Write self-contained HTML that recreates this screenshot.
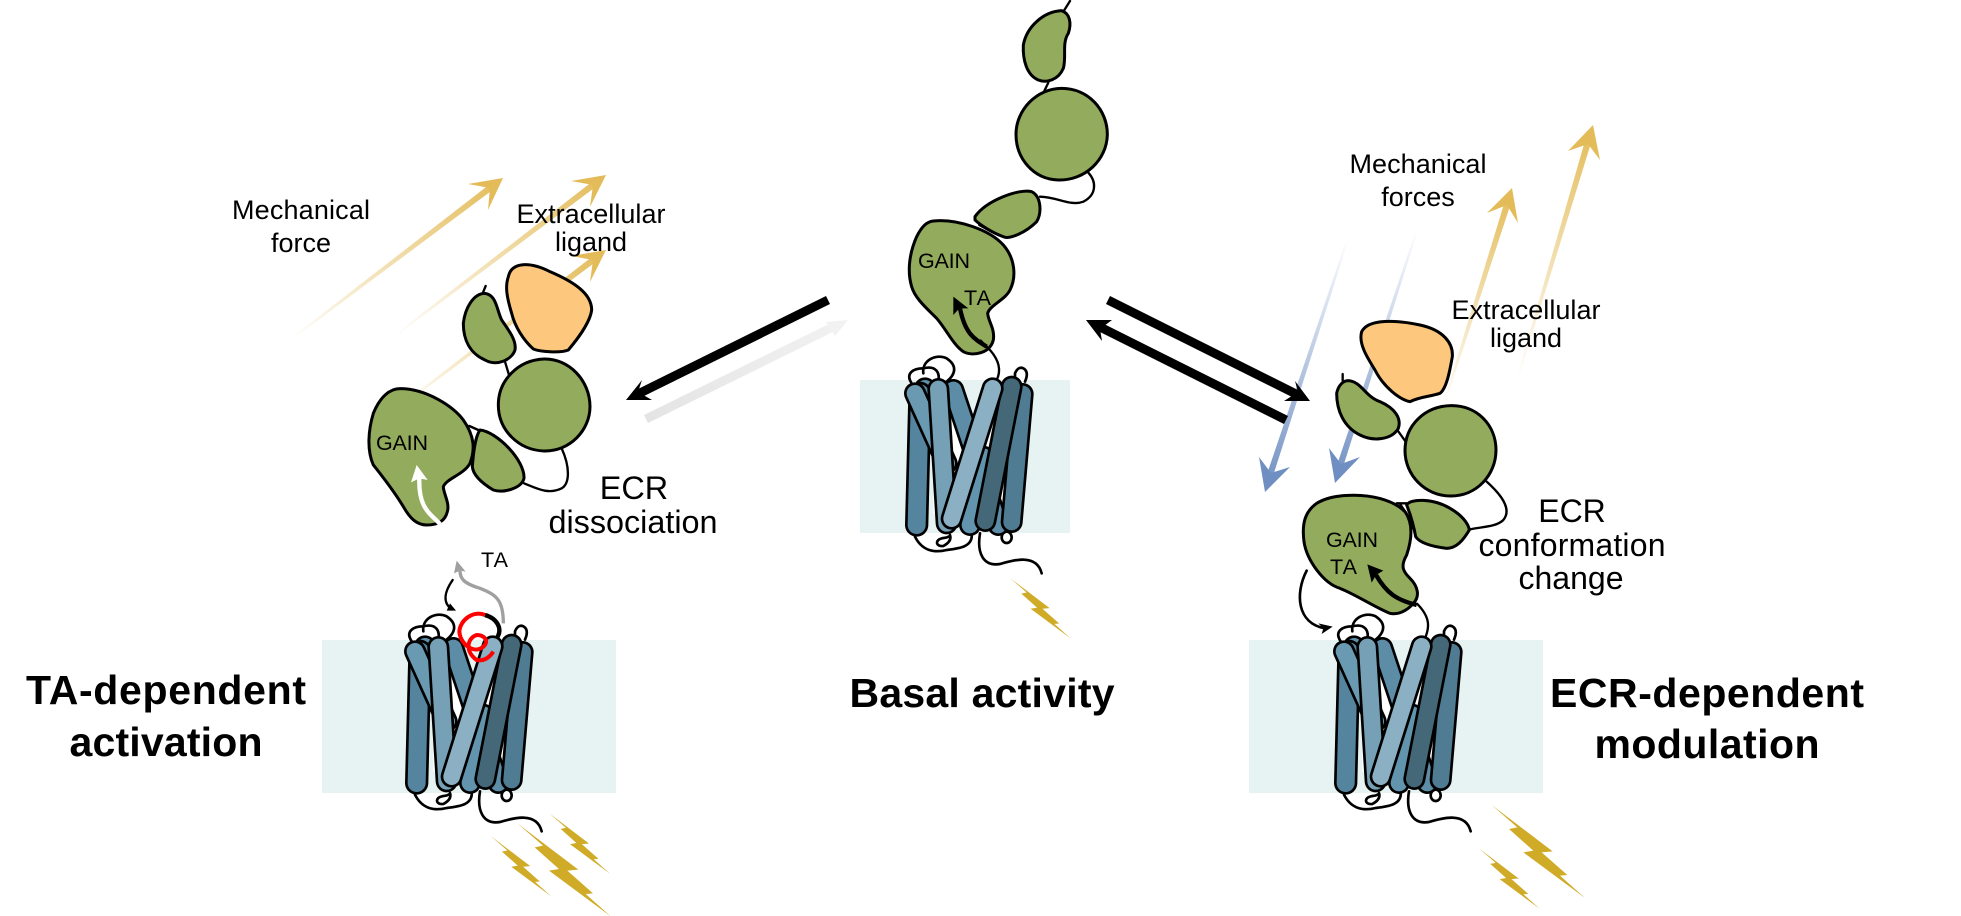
<!DOCTYPE html>
<html>
<head>
<meta charset="utf-8">
<style>
html,body{margin:0;padding:0;background:#fff;}
svg{display:block;filter:blur(0.35px);}
text{font-family:"Liberation Sans",sans-serif;fill:#000;}
.g{fill:#93ab5c;stroke:#000;stroke-width:9;stroke-linejoin:round;}
.o{fill:#fdc87d;stroke:#000;stroke-width:9;stroke-linejoin:round;}
.t{fill:none;stroke:#000;stroke-width:7;stroke-linecap:round;}
.b{font-weight:bold;font-size:41px;}
</style>
</head>
<body>
<svg xmlns="http://www.w3.org/2000/svg" width="1961" height="916" viewBox="0 0 1961 916">
<defs>
<linearGradient id="a1" gradientUnits="userSpaceOnUse" x1="290" y1="340" x2="503" y2="178"><stop offset="0" stop-color="#e3bb58" stop-opacity="0"/><stop offset="1" stop-color="#e3bb58"/></linearGradient>
<linearGradient id="a2" gradientUnits="userSpaceOnUse" x1="393" y1="337" x2="606" y2="175"><stop offset="0" stop-color="#e3bb58" stop-opacity="0"/><stop offset="1" stop-color="#e3bb58"/></linearGradient>
<linearGradient id="a3" gradientUnits="userSpaceOnUse" x1="393" y1="412" x2="606" y2="250"><stop offset="0" stop-color="#e3bb58" stop-opacity="0"/><stop offset="1" stop-color="#e3bb58"/></linearGradient>
<linearGradient id="a4" gradientUnits="userSpaceOnUse" x1="1443" y1="407" x2="1512" y2="188"><stop offset="0" stop-color="#e3bb58" stop-opacity="0"/><stop offset="1" stop-color="#e3bb58"/></linearGradient>
<linearGradient id="a5" gradientUnits="userSpaceOnUse" x1="1517" y1="380" x2="1593" y2="125"><stop offset="0" stop-color="#e3bb58" stop-opacity="0"/><stop offset="1" stop-color="#e3bb58"/></linearGradient>
<linearGradient id="b1" gradientUnits="userSpaceOnUse" x1="1348" y1="238" x2="1265" y2="492"><stop offset="0" stop-color="#6f8fc2" stop-opacity="0"/><stop offset="1" stop-color="#6f8fc2"/></linearGradient>
<linearGradient id="b2" gradientUnits="userSpaceOnUse" x1="1417" y1="230" x2="1335" y2="483"><stop offset="0" stop-color="#6f8fc2" stop-opacity="0"/><stop offset="1" stop-color="#6f8fc2"/></linearGradient>
<linearGradient id="gr" gradientUnits="userSpaceOnUse" x1="646" y1="419" x2="848" y2="320"><stop offset="0" stop-color="#e4e4e4"/><stop offset="1" stop-color="#f2f2f2"/></linearGradient>

<polygon id="bolt" points="0,0 183,139 150,142 227,210 205,212 280,279 95,142 125,137 52,72 77,67" fill="#cfab27"/>

<g id="rec" transform="translate(840,340) scale(0.33333)">
  <polygon points="280,245 540,245 540,520 280,520" fill="#fff"/>
  <g fill="none" stroke="#000" stroke-width="8" stroke-linecap="round">
    <path d="M215,130C195,100 220,85 250,85C290,75 300,100 295,125"/>
    <path d="M250,100C245,60 290,40 320,55C350,75 350,100 320,125"/>
    <path d="M525,125L525,100Q535,78 550,85Q568,95 555,125" fill="#fff"/>
    <path d="M225,590C245,630 280,640 320,630C360,625 400,620 395,580"/>
    <path d="M330,585C335,600 325,610 310,618C295,620 285,610 295,600C305,592 320,595 325,590" fill="#fff"/>
    <ellipse cx="500" cy="592" rx="15" ry="17" fill="#fff"/>
    <path d="M420,580C410,640 430,680 480,672C520,660 590,640 605,700"/>
  </g>
  <g stroke-linecap="round" fill="none">
    <line x1="255" y1="145" x2="290" y2="300" stroke="#000" stroke-width="66"/><line x1="255" y1="145" x2="290" y2="300" stroke="#5f93ad" stroke-width="50"/>
    <line x1="340" y1="150" x2="475" y2="555" stroke="#000" stroke-width="66"/><line x1="340" y1="150" x2="475" y2="555" stroke="#5c8ca6" stroke-width="50"/>
    <line x1="430" y1="350" x2="390" y2="555" stroke="#000" stroke-width="66"/><line x1="430" y1="350" x2="390" y2="555" stroke="#6295ad" stroke-width="50"/>
    <line x1="240" y1="160" x2="230" y2="555" stroke="#000" stroke-width="70"/><line x1="240" y1="160" x2="230" y2="555" stroke="#55849f" stroke-width="54"/>
    <line x1="225" y1="160" x2="320" y2="370" stroke="#000" stroke-width="66"/><line x1="225" y1="160" x2="320" y2="370" stroke="#6a9ab2" stroke-width="50"/>
    <line x1="295" y1="147" x2="320" y2="550" stroke="#000" stroke-width="66"/><line x1="295" y1="147" x2="320" y2="550" stroke="#76a0b5" stroke-width="50"/>
    <line x1="548" y1="162" x2="515" y2="546" stroke="#000" stroke-width="66"/><line x1="548" y1="162" x2="515" y2="546" stroke="#4f7c93" stroke-width="50"/>
    <line x1="515" y1="140" x2="436" y2="543" stroke="#000" stroke-width="66"/><line x1="515" y1="140" x2="436" y2="543" stroke="#456878" stroke-width="50"/>
    <line x1="458" y1="145" x2="335" y2="536" stroke="#000" stroke-width="66"/><line x1="458" y1="145" x2="335" y2="536" stroke="#8bb0c4" stroke-width="50"/>
  </g>
</g>
</defs>

<rect width="1961" height="916" fill="#fff"/>

<!-- membranes -->
<rect x="322" y="640" width="294" height="153" fill="#e7f3f3"/>
<rect x="860" y="380" width="210" height="153" fill="#e7f3f3"/>
<rect x="1249" y="640" width="294" height="153" fill="#e7f3f3"/>

<!-- force arrows -->
<polygon points="290.6,340.8 289.4,339.2 488.1,185.5 491.9,190.5" fill="url(#a1)"/>
<polygon points="468,184 503,178 488,210 490,188" fill="#e3bb58"/>
<polygon points="393.6,337.8 392.4,336.2 591.1,182.5 594.9,187.5" fill="url(#a2)"/>
<polygon points="571,181 606,175 590,207 593,185" fill="#e3bb58"/>
<polygon points="393.6,412.8 392.4,411.2 591.1,257.5 594.9,262.5" fill="url(#a3)"/>
<polygon points="571,256 606,250 590,282 593,260" fill="#e3bb58"/>

<polygon points="1444,407.3 1442,406.7 1504,204 1510,206" fill="url(#a4)"/>
<polygon points="1487,213 1512,188 1518,223 1507,205" fill="#e3bb58"/>
<polygon points="1518,380.3 1516,379.7 1585,141 1591,143" fill="url(#a5)"/>
<polygon points="1568,151 1593,125 1600,160 1588,144" fill="#e3bb58"/>

<polygon points="1349,238.3 1347,237.7 1267,474 1273,476" fill="url(#b1)"/>
<polygon points="1259,457 1265,492 1290,467 1271,473" fill="#6f8fc2"/>
<polygon points="1418,230.3 1416,229.7 1337,465 1343,467" fill="url(#b2)"/>
<polygon points="1329,448 1335,483 1360,457 1341,464" fill="#6f8fc2"/>

<!-- receptors -->
<use href="#rec" x="-500" y="258"/>
<use href="#rec"/>
<use href="#rec" x="429" y="258"/>

<!-- bolts -->
<g transform="translate(300,540) scale(0.33333)">
  <use href="#bolt" transform="translate(748,820) scale(0.65)"/>
  <use href="#bolt" transform="translate(652,850)"/>
  <use href="#bolt" transform="translate(572,888) scale(0.65)"/>
</g>
<g transform="translate(840,340) scale(0.33333)"><use href="#bolt" transform="translate(510,714) scale(0.65)"/></g>
<g transform="translate(1250,480) scale(0.33333)">
  <use href="#bolt" transform="translate(725,975)"/>
  <use href="#bolt" transform="translate(687,1105) scale(0.65)"/>
</g>

<!-- left ECR -->
<g transform="translate(240,150) scale(0.33333)">
  <path class="t" d="M728,430L737,408M795,635L808,678M688,828L715,840"/>
  <path class="t" d="M965,895C990,950 990,1000 965,1015C925,1035 890,1015 852,1000"/>
  <path class="o" d="M805,380C815,335 870,335 930,365C1000,395 1055,430 1055,480C1050,520 1010,570 985,600C960,610 900,605 880,597C850,570 825,530 815,490C800,440 795,410 805,380Z"/>
  <path class="g" d="M735,430C770,435 770,480 785,510C805,540 830,570 825,600C815,630 770,650 735,630C690,610 670,570 670,520C675,475 700,430 735,430Z"/>
  <path class="g" d="M912,627C985,625 1050,690 1050,770C1050,840 990,905 912,903C835,900 775,840 775,765C775,690 835,630 912,627Z"/>
  <path class="g" d="M720,840C770,845 855,930 852,985C845,1015 790,1030 760,1020C735,1005 700,980 697,950C700,910 705,860 720,840Z"/>
  <path class="g" d="M480,716C560,716 640,770 670,810C705,860 705,900 690,940C670,975 620,985 610,1010C610,1030 630,1060 622,1085C615,1115 590,1125 560,1125C530,1125 510,1105 490,1070C460,1020 420,970 400,945C380,900 385,840 400,790C420,740 450,716 480,716Z"/>
  <path d="M600,1122C570,1090 535,1075 538,985" fill="none" stroke="#fff" stroke-width="13"/>
  <polygon points="513,997 530,945 563,990 538,985" fill="#fff"/>
</g>

<!-- center ECR -->
<g transform="translate(840,0) scale(0.33333)">
  <path class="t" d="M672,32L690,3M625,248L612,275M418,675L445,690M445,690L490,708"/>
  <path class="t" d="M745,518C770,545 770,585 730,605C690,620 650,590 600,590"/>
  <path class="g" d="M665,32C690,40 695,70 685,100C665,130 680,170 670,205C655,240 620,250 595,240C560,225 548,180 550,135C560,80 610,35 665,32Z"/>
  <path class="g" d="M665,265C745,265 803,330 802,405C800,480 735,542 655,540C580,538 528,475 528,403C528,330 590,265 665,265Z"/>
  <path class="g" d="M405,650C440,600 540,565 575,575C605,590 605,640 590,665C560,695 510,720 490,710C460,700 420,675 405,660Z"/>
  <path class="g" d="M280,663C350,655 450,690 490,735C525,775 530,830 510,870C495,900 450,915 443,940C445,965 465,985 460,1020C450,1060 400,1070 370,1055C340,1035 320,990 290,955C260,925 225,895 215,860C200,810 210,755 230,710C245,680 260,665 280,663Z"/>
  <path d="M440,1040C400,1015 375,1000 360,925" fill="none" stroke="#000" stroke-width="13"/>
  <polygon points="340,890 385,925 358,925 340,945"/>
</g>
<g transform="translate(840,340) scale(0.33333)">
  <path d="M420,0L450,30C485,70 480,100 470,120" fill="none" stroke="#000" stroke-width="7"/>
</g>

<!-- right ECR -->
<g transform="translate(1240,110) scale(0.33333)">
  <path class="t" d="M308,812L308,792M472,960L497,995"/>
  <path class="o" d="M365,665C385,625 470,630 540,645C610,660 640,700 637,740C630,780 620,835 600,850C570,860 540,860 510,875C480,870 430,830 405,780C380,740 355,700 365,665Z"/>
  <path class="g" d="M325,812C365,815 375,860 420,875C465,895 485,925 475,955C455,990 400,995 360,975C310,950 290,900 290,850C295,825 310,812 325,812Z"/>
  <path class="g" d="M632,887C710,885 768,945 768,1020C768,1095 710,1158 632,1158C555,1158 495,1095 495,1022C495,945 555,889 632,887Z"/>
</g>
<g transform="translate(1250,480) scale(0.33333)">
  <path class="t" d="M440,70L470,70M450,72C470,100 490,130 483,150"/>
  <path class="t" d="M710,5C760,50 785,90 760,120C740,140 700,140 660,148"/>
  <path class="g" d="M470,75C480,55 550,55 600,85C635,105 655,130 658,150C640,180 620,205 590,205C550,200 510,190 497,170C490,130 480,100 470,75Z"/>
  <path class="g" d="M280,47C360,40 430,60 465,95C490,130 485,180 470,225C450,260 460,275 480,295C505,320 510,350 490,370C470,395 440,405 420,400C380,385 320,345 270,325C220,310 170,240 162,185C155,130 165,95 200,70C225,55 250,50 280,47Z"/>
  <path d="M500,375C440,360 410,340 378,285" fill="none" stroke="#000" stroke-width="13"/>
  <polygon points="352,253 400,272 378,285 365,308"/>
  <path d="M500,370C540,410 540,440 525,475" fill="none" stroke="#000" stroke-width="7"/>
  <path d="M170,272C135,340 140,430 225,445" fill="none" stroke="#000" stroke-width="8" stroke-linecap="round"/>
  <polygon points="248,440 205,430 220,445 215,462"/>
</g>

<!-- left TA detail -->
<g transform="translate(300,540) scale(0.33333)" fill="none">
  <path d="M610,250C610,180 590,165 540,145C490,130 480,115 480,92" stroke="#a0a0a0" stroke-width="10"/>
  <polygon points="462,100 470,62 497,95 480,92" fill="#a0a0a0"/>
  <path d="M458,120C430,160 430,190 455,208" stroke="#000" stroke-width="7" stroke-linecap="round"/>
  <polygon points="440,212 468,212 450,190" fill="#000"/>
  <path d="M555,225C590,235 610,265 590,295" stroke="#000" stroke-width="13"/>
  <path d="M555,225C520,210 480,240 478,275C480,310 520,345 550,320C570,300 550,285 530,285C500,295 495,335 530,360C555,365 570,350 580,335" stroke="#f00" stroke-width="12"/>
</g>

<!-- main arrows -->
<line x1="828" y1="300" x2="636" y2="395" stroke="#000" stroke-width="9"/>
<polygon points="642,380 626,400 652,400 638,392"/>
<line x1="646" y1="419" x2="835" y2="326" stroke="url(#gr)" stroke-width="9"/>
<polygon points="826,322 848,320 835,336" fill="#f2f2f2"/>
<line x1="1108" y1="300" x2="1300" y2="396" stroke="#000" stroke-width="9"/>
<polygon points="1295,381 1310,401 1284,401 1298,392"/>
<line x1="1286" y1="420" x2="1096" y2="325" stroke="#000" stroke-width="9"/>
<polygon points="1112,320 1086,320 1102,341 1100,329"/>

<!-- labels -->
<g text-anchor="middle">
  <text x="301" y="219" font-size="27" textLength="138">Mechanical</text>
  <text x="301" y="252" font-size="27">force</text>
  <text x="591" y="223" font-size="27" textLength="149">Extracellular</text>
  <text x="591" y="251" font-size="27">ligand</text>
  <text x="634" y="499" font-size="32.4">ECR</text>
  <text x="633" y="533" font-size="32.4" textLength="169">dissociation</text>

  <text x="1418" y="173" font-size="27" textLength="137">Mechanical</text>
  <text x="1418" y="206" font-size="27">forces</text>
  <text x="1526" y="319" font-size="27" textLength="149">Extracellular</text>
  <text x="1526" y="347" font-size="27">ligand</text>
  <text x="1572" y="522" font-size="32">ECR</text>
  <text x="1572" y="556" font-size="32" textLength="187">conformation</text>
  <text x="1571" y="589" font-size="32">change</text>

  <text class="b" x="166" y="704" textLength="280">TA-dependent</text>
  <text class="b" x="166" y="756" textLength="193">activation</text>
  <text class="b" x="982" y="707" textLength="265">Basal activity</text>
  <text class="b" x="1707" y="707" textLength="314">ECR-dependent</text>
  <text class="b" x="1707" y="758" textLength="225">modulation</text>
</g>
<text x="376" y="450" font-size="21.5" textLength="52">GAIN</text>
<text x="918" y="268" font-size="21.5" textLength="52">GAIN</text>
<text x="964" y="305" font-size="21.5" textLength="27">TA</text>
<text x="1326" y="547" font-size="21.5" textLength="52">GAIN</text>
<text x="1330" y="574" font-size="21.5" textLength="27">TA</text>
<text x="481" y="567" font-size="21.5" textLength="27">TA</text>
</svg>
</body>
</html>
